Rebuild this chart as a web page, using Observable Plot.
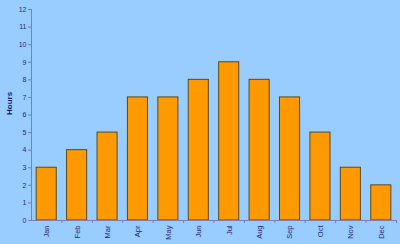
<!DOCTYPE html>
<html>
<head>
<meta charset="utf-8">
<script src="https://cdn.jsdelivr.net/npm/d3@7"></script>
<script src="https://cdn.jsdelivr.net/npm/@observablehq/plot@0.6"></script>
<style>
  html, body { margin: 0; padding: 0; background: #99ccff; }
  #chart svg { display: block; }
</style>
</head>
<body>
<div id="chart"></div>
<script>
const months = ["Jan","Feb","Mar","Apr","May","Jun","Jul","Aug","Sep","Oct","Nov","Dec"];
const hours = [3,4,5,7,7,8,9,8,7,5,3,2];
const yTicks = [0,1,2,3,4,5,6,7,8,9,10,11,12];

const data = months.map((m, i) => ({month: m, hours: hours[i]}));
const axisColor = "#7a7fb8";
const labelColor = "#2a2a7a";
const W = 400, mL = 31, mR = 4;
const step = (W - mL - mR) / months.length;

const chart = Plot.plot({
  width: W,
  height: 244,
  marginLeft: mL,
  marginRight: mR,
  marginTop: 9,
  marginBottom: 24,
  style: {background: "#99ccff", fontFamily: "Liberation Sans, Arial, sans-serif", fontSize: "7px", color: labelColor},
  x: {domain: months, paddingInner: 0.34, paddingOuter: 0.17, align: 0.5, round: false},
  y: {domain: [0, 12]},
  marks: [
    Plot.barY(data, {x: "month", y: "hours", fill: "#ff9900", stroke: "#5a4a1a", strokeWidth: 1}),
    Plot.ruleY([0], {stroke: axisColor}),
    Plot.ruleX([months[0]], {x: d => d, dx: -step / 2, y1: 0, y2: 12, stroke: axisColor}),
    Plot.axisY({ticks: yTicks, tickSize: 3, tickPadding: 2, stroke: axisColor, fill: labelColor, label: null}),
    Plot.axisX({tickSize: 3, dx: step / 2, tickFormat: () => "", stroke: axisColor, label: null}),
    Plot.axisX({tickSize: 0, tickPadding: 5, tickRotate: -90, fill: labelColor, fontSize: 7.5, label: null}),
    Plot.text(["Hours"], {frameAnchor: "left", dx: -22, rotate: -90, fontWeight: "bold", fontSize: 8, fill: "#1a1a66"})
  ]
});
document.getElementById("chart").appendChild(chart);
</script>
</body>
</html>
